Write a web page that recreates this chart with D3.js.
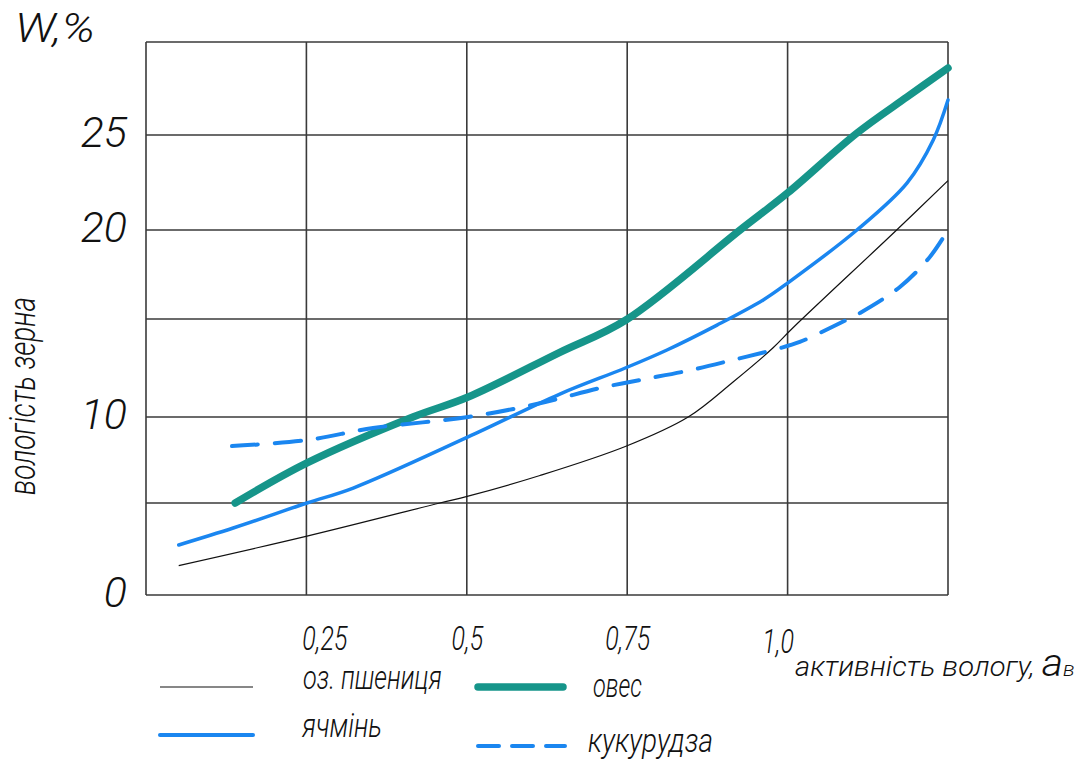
<!DOCTYPE html>
<html><head><meta charset="utf-8">
<script src="https://cdn.jsdelivr.net/npm/d3@7"></script>
<style>
html,body{margin:0;padding:0;background:#fff;}
svg text{font-family:Roboto,"DejaVu Sans",sans-serif;font-style:italic;font-weight:300;fill:#111;}
</style></head>
<body><svg id="c" width="1082" height="761"></svg>
<script>
// ---- data ----
const xTicks = [0.25, 0.5, 0.75, 1.0];
const xTickLabels = ["0,25", "0,5", "0,75", "1,0"];
const yTicks = [0, 10, 20, 25];
const xGrid = [0, 0.25, 0.5, 0.75, 1.0, 1.25];
const yGrid = [0, 5, 10, 15, 20, 25, 30];

const wheatA = [0.051, 0.251, 0.458, 0.502, 0.614, 0.748, 0.845, 0.915, 0.977, 1.008, 1.17, 1.25];
const wheatW = [1.6, 3.2, 5.0, 5.4, 6.6, 8.3, 10.0, 11.79, 13.52, 14.54, 20.0, 22.6];
const barleyA = [0.051, 0.136, 0.251, 0.323, 0.502, 0.645, 0.747, 0.812, 0.89, 0.962, 1.0, 1.108, 1.186, 1.227, 1.25];
const barleyW = [2.72, 3.64, 5.0, 5.87, 8.84, 11.17, 12.5, 13.42, 14.69, 16.07, 17.02, 20.0, 22.47, 24.74, 26.88];
const oatA = [0.139, 0.251, 0.416, 0.502, 0.645, 0.748, 0.926, 1.0, 1.108, 1.186, 1.25];
const oatW = [5.0, 7.33, 10.0, 11.02, 13.3, 14.95, 20.0, 21.95, 25.1, 27.04, 28.6];
const cornA = [0.134, 0.251, 0.354, 0.502, 0.614, 0.708, 0.77, 0.843, 0.915, 0.983, 1.019, 1.082, 1.113, 1.175, 1.222, 1.25];
const cornW = [8.31, 8.66, 9.36, 10.0, 10.7, 11.48, 11.89, 12.35, 12.91, 13.47, 13.83, 14.8, 15.34, 16.8, 18.5, 20.0];

const seriesNames = ["оз. пшениця", "ячмінь", "овес", "кукурудза"];

// ---- drawing ----
const svg = d3.select("#c");
const x = d3.scaleLinear().domain([0, 1.25]).range([146, 948]);
const y = d3.scaleLinear().domain([0, 5, 10, 15, 20, 25, 30]).range([595, 503, 417, 319, 230, 135, 42]);

const TEAL = "#16958a", BLUE = "#1a86f0";

// grid
const g = svg.append("g").attr("stroke", "#3a3a3a").attr("stroke-width", 1.6);
g.selectAll("line.v").data(xGrid).join("line").attr("class", "v")
  .attr("x1", d => x(d)).attr("x2", d => x(d)).attr("y1", y(30)).attr("y2", y(0));
g.selectAll("line.h").data(yGrid).join("line").attr("class", "h")
  .attr("y1", d => y(d)).attr("y2", d => y(d)).attr("x1", x(0)).attr("x2", x(1.25));

// axes labels
const yAxis = svg.append("g").attr("transform", `translate(${x(0)},0)`)
  .call(d3.axisLeft(y).tickValues(yTicks).tickSize(0).tickPadding(19).tickFormat(d3.format("d")));
yAxis.select(".domain").remove();
yAxis.selectAll("text").attr("font-size", 43).attr("dy", "0.26em")
  .style("font-family", "Roboto, sans-serif").attr("fill", "#111");

const xAxis = svg.append("g").attr("transform", `translate(0,${y(0)})`)
  .call(d3.axisBottom(x).tickValues(xTicks).tickSize(0).tickFormat((d, i) => xTickLabels[i]));
xAxis.select(".domain").remove();
xAxis.selectAll("text").attr("font-size", 33).attr("y", 0).attr("dy", 0)
  .attr("transform", (d, i) => `translate(${i === 0 ? 18 : (i === 3 ? -10 : 0)},${i === 3 ? 58 : 55}) scale(0.76,1)`)
  .style("font-family", "Roboto, sans-serif").attr("fill", "#111");

// lines
const line = d3.line().x(d => x(d[0])).y(d => y(d[1])).curve(d3.curveCatmullRom.alpha(0.5));
const zip = (a, w) => a.map((v, i) => [v, w[i]]);

svg.append("path").attr("d", line(zip(wheatA, wheatW)))
  .attr("fill", "none").attr("stroke", "#111").attr("stroke-width", 1.2);
svg.append("path").attr("d", line(zip(oatA, oatW)))
  .attr("fill", "none").attr("stroke", TEAL).attr("stroke-width", 7.5).attr("stroke-linecap", "round");
svg.append("path").attr("d", line(zip(barleyA, barleyW)))
  .attr("fill", "none").attr("stroke", BLUE).attr("stroke-width", 3.5).attr("stroke-linecap", "round");
svg.append("path").attr("d", line(zip(cornA, cornW)))
  .attr("fill", "none").attr("stroke", BLUE).attr("stroke-width", 4).attr("stroke-linecap", "round")
  .attr("stroke-dasharray", "26,17");

// helper: place a text and compress it horizontally to a target width
function fitText(parent, tx, ty, fs, width, build, rot) {
  const t = parent.append("text").attr("font-size", fs);
  build(t);
  const w = t.node().getComputedTextLength();
  const s = width / w;
  if (rot) {
    t.attr("text-anchor", "middle").attr("transform", `translate(${tx},${ty}) rotate(-90) scale(${s},1)`);
  } else {
    t.attr("transform", `translate(${tx},${ty}) scale(${s},1)`);
  }
  return t;
}

// titles
fitText(svg, 15, 42, 40, 80, t => t.text("W,%"));
fitText(svg, 35, 396, 36, 198, t => t.text("вологість зерна"), true);
fitText(svg, 795, 676, 27, 280, t => {
  t.append("tspan").text("активність вологу, ");
  t.append("tspan").attr("font-size", 38).text("а");
  t.append("tspan").attr("font-size", 20).text("в");
});

// legend
const lg = svg.append("g");
lg.append("line").attr("x1", 160).attr("x2", 253).attr("y1", 687).attr("y2", 687)
  .attr("stroke", "#111").attr("stroke-width", 1.2);
lg.append("line").attr("x1", 160).attr("x2", 253).attr("y1", 735).attr("y2", 735)
  .attr("stroke", BLUE).attr("stroke-width", 4).attr("stroke-linecap", "round");
lg.append("line").attr("x1", 478).attr("x2", 563).attr("y1", 687).attr("y2", 687)
  .attr("stroke", TEAL).attr("stroke-width", 7.5).attr("stroke-linecap", "round");
lg.append("line").attr("x1", 478).attr("x2", 565).attr("y1", 746).attr("y2", 746)
  .attr("stroke", BLUE).attr("stroke-width", 4).attr("stroke-linecap", "round")
  .attr("stroke-dasharray", "21,13");

fitText(lg, 303, 689, 33, 139, t => t.text(seriesNames[0]));
fitText(lg, 302, 737, 33, 80, t => t.text(seriesNames[1]));
fitText(lg, 593, 697, 33, 49, t => t.text(seriesNames[2]));
fitText(lg, 588, 752, 33, 125, t => t.text(seriesNames[3]));
</script></body></html>
